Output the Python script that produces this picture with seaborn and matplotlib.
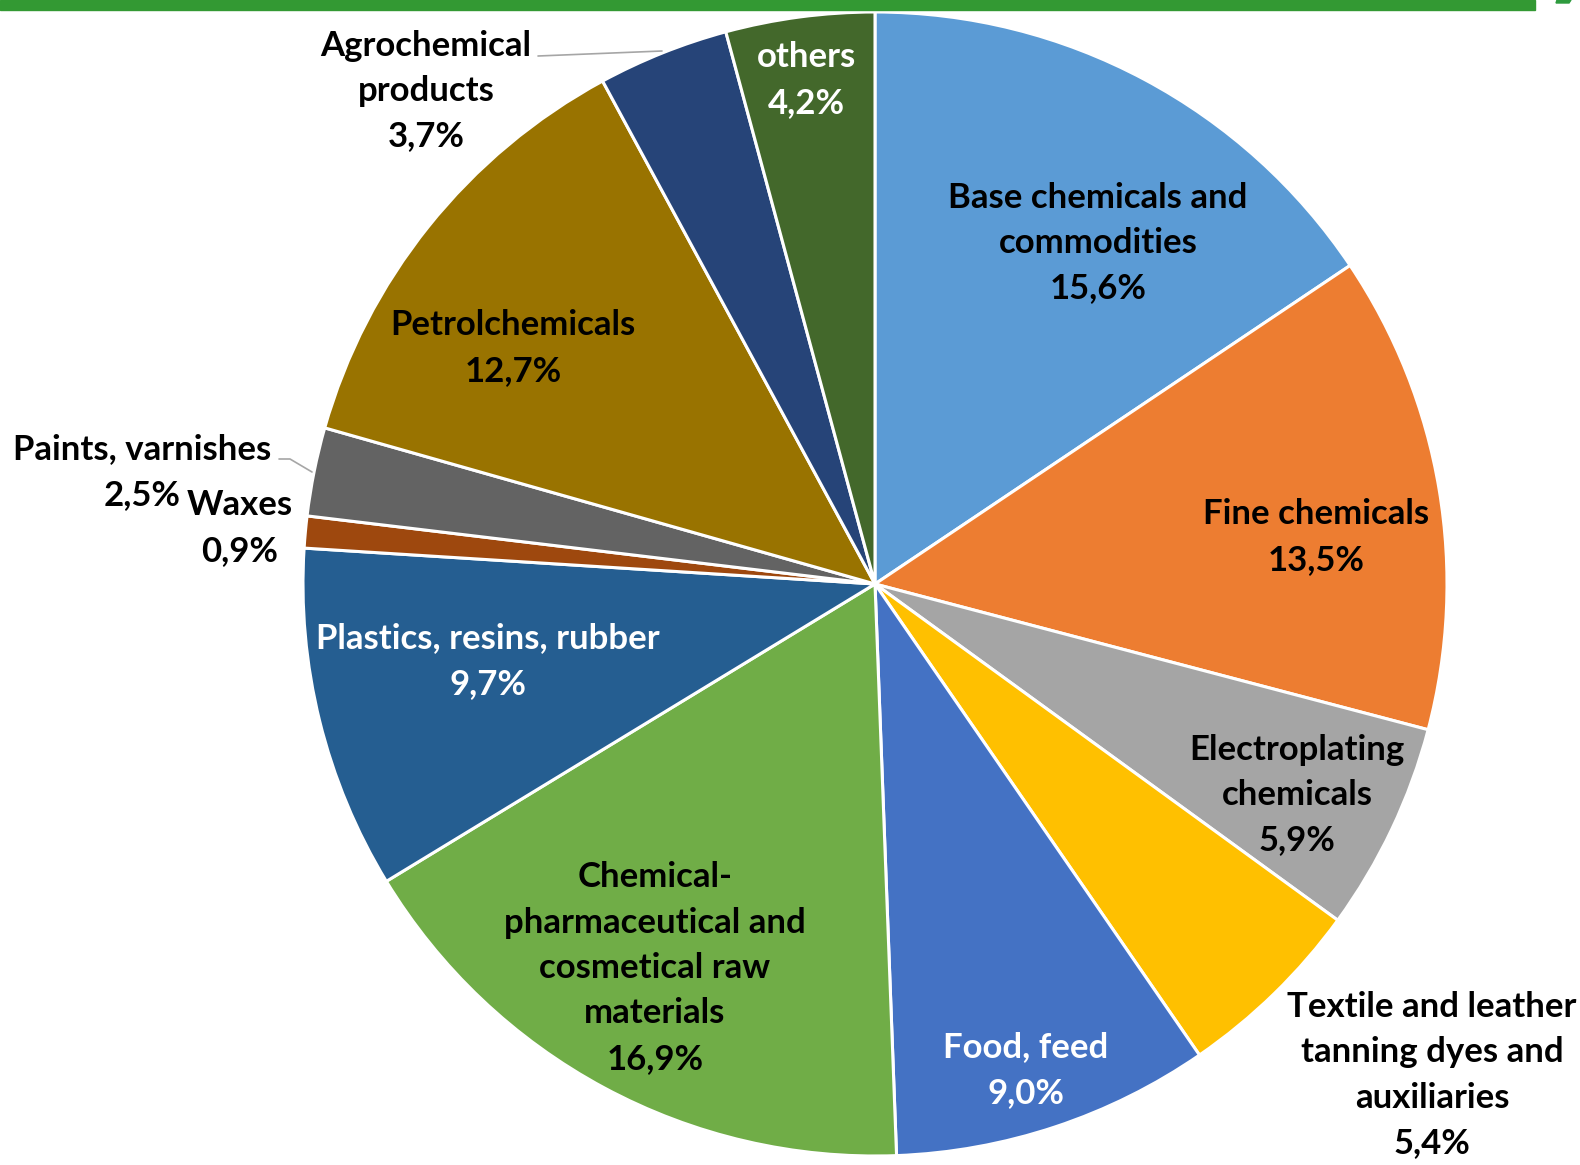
import matplotlib
matplotlib.use("Agg")
import matplotlib.pyplot as plt
import seaborn as sns

sns.set_theme(style="white")
plt.rcParams['font.family'] = ['Lato', 'DejaVu Sans']

categories = ["Base chemicals and\ncommodities", "Fine chemicals", "Electroplating\nchemicals",
              "Textile and leather\ntanning dyes and\nauxiliaries", "Food, feed",
              "Chemical-\npharmaceutical and\ncosmetical raw\nmaterials",
              "Plastics, resins, rubber", "Waxes", "Paints, varnishes", "Petrolchemicals",
              "Agrochemical\nproducts", "others"]
values = [15.6, 13.5, 5.9, 5.4, 9.0, 16.9, 9.7, 0.9, 2.5, 12.7, 3.7, 4.2]
colors = ["#5B9BD5", "#ED7D31", "#A5A5A5", "#FFC000", "#4472C4", "#70AD47",
          "#255E91", "#9E480E", "#636363", "#997300", "#264478", "#43682B"]
text_colors = ["black", "black", "black", "black", "white", "black",
               "white", "black", "black", "black", "black", "white"]
# label block centres in pixel layout (x, y from top)
label_pos = [(1098, 243), (1316, 537), (1297, 795), (1432, 1075), (1026, 1070),
             (655, 968), (488, 661), (240, 528), (142, 472), (513, 348),
             (426, 91), (806, 80)]

W, H = 1580, 1165
LINE_GAP = 45.4
fig = plt.figure(figsize=(W / 100, H / 100), dpi=100)
ax = fig.add_axes([0, 0, 1, 1])

cx, cy, R = 875, H - 584, 572
ax.pie(values, colors=colors, startangle=90, counterclock=False,
       center=(cx, cy), radius=R, frame=True,
       wedgeprops=dict(edgecolor="white", linewidth=2.2))
ax.set_xlim(0, W)
ax.set_ylim(0, H)
ax.set_aspect('equal')
ax.axis('off')

for cat, v, tc, (x, y) in zip(categories, values, text_colors, label_pos):
    lines = cat.split("\n") + [f"{v:.1f}%".replace(".", ",")]
    n = len(lines)
    for i, line in enumerate(lines):
        yy = y + (i - (n - 1) / 2) * LINE_GAP
        ax.text(x, H - yy, line, ha="center", va="center", color=tc,
                fontsize=25, fontweight="bold")

# leader lines
ax.plot([538, 662], [H - 56, H - 51], color="#A6A6A6", lw=1.2)
ax.plot([279, 290, 312], [H - 459, H - 459, H - 472], color="#A6A6A6", lw=1.2)

# top green band
fig.patches.append(plt.Rectangle((0, 1 - 10 / H), 1535 / W, 10 / H,
                                 transform=fig.transFigure, color="#339933", zorder=5))
fig.patches.append(plt.Polygon([(1557 / W, 1), (1571 / W, 1), (1569 / W, 1 - 3 / H), (1556 / W, 1 - 3 / H)],
                               closed=True, transform=fig.transFigure, color="#2E9B3E", zorder=5))

fig.savefig("out.png", dpi=100)
